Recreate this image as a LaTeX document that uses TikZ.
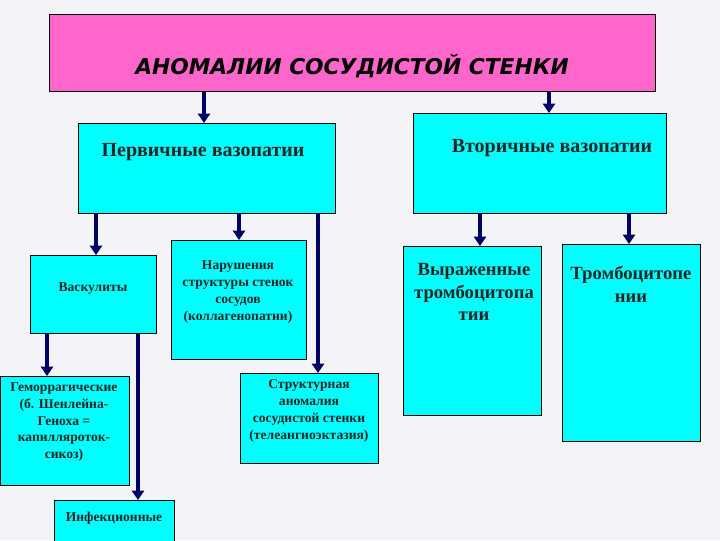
\documentclass[tikz,border=0pt]{standalone}
\usepackage{fontspec}
\setmainfont{Liberation Serif}
\newfontfamily\hdfont{DejaVu Sans}
\usetikzlibrary{arrows.meta}
\definecolor{bg}{HTML}{F4F4F8}
\definecolor{cy}{HTML}{00FFFF}
\definecolor{pk}{HTML}{FF66CC}
\definecolor{nv}{HTML}{000066}
\begin{document}
\begin{tikzpicture}[x=0.75pt,y=-0.75pt,
 bx/.style={draw=black,fill=cy,line width=0.6pt},
 lb/.style={font=\bfseries\fontsize{10.2}{12.6}\selectfont,align=center,text=black!85},
 lg/.style={lb,font=\bfseries\fontsize{14}{17}\selectfont},
 ar/.style={draw=nv,line width=3pt,-{Triangle[length=7pt,width=9pt]}}]
\fill[bg] (0,0) rectangle (720,540);
\useasboundingbox (0,0) rectangle (720,540);
\draw[fill=pk,draw=black] (49,14) rectangle (655,91);
\node (top) at (352,66) {\hdfont\bfseries\itshape\fontsize{16.3}{18}\selectfont АНОМАЛИИ СОСУДИСТОЙ СТЕНКИ};
\draw[bx] (78,123) rectangle (335,213);
\node[lb,font=\bfseries\fontsize{15}{17}\selectfont] (p) at (203,152) {Первичные вазопатии};
\draw[bx] (413,113) rectangle (666,213);
\node[lb,font=\bfseries\fontsize{15}{17}\selectfont] (s) at (552,148) {Вторичные вазопатии};
\draw[bx] (30,255) rectangle (156,333);
\node[lb] (v) at (93,289) {Васкулиты};
\draw[bx] (171,240) rectangle (306,359);
\node[lb] (n) at (238,292) {Нарушения\\структуры стенок\\сосудов\\(коллагенопатии)};
\draw[bx] (403,246) rectangle (541,415);
\node[lg] (w) at (474,292) {Выраженные\\тромбоцитопа\\тии};
\draw[bx] (562,244) rectangle (700,441);
\node[lg] (t) at (631,284) {Тромбоцитопе\\нии};
\draw[bx] (0,376) rectangle (129,485);
\node[lb] (g) at (64,422) {Геморрагические\\(б. Шенлейна-\\Геноха =\\капилляроток-\\сикоз)};
\draw[bx] (240,373) rectangle (378,463);
\node[lb] (c) at (309,411) {Структурная\\аномалия\\сосудистой стенки\\(телеангиоэктазия)};
\draw[bx] (54,500) rectangle (174,545);
\node[lb] (i) at (114,518) {Инфекционные};
\coordinate (a1) at (204,92); \coordinate (a1e) at (204,123);
\coordinate (a2) at (549,92); \coordinate (a2e) at (549,113);
\draw[ar] (a1) -- (a1e); \draw[ar] (a2) -- (a2e);
\draw[ar] (96,214) -- (96,255);
\draw[ar] (239,214) -- (239,240);
\draw[ar] (318,214) -- (318,373);
\draw[ar] (480,214) -- (480,246);
\draw[ar] (629,214) -- (629,244);
\draw[ar] (47,334) -- (47,376);
\draw[ar] (138,334) -- (138,500);
\end{tikzpicture}
\end{document}
